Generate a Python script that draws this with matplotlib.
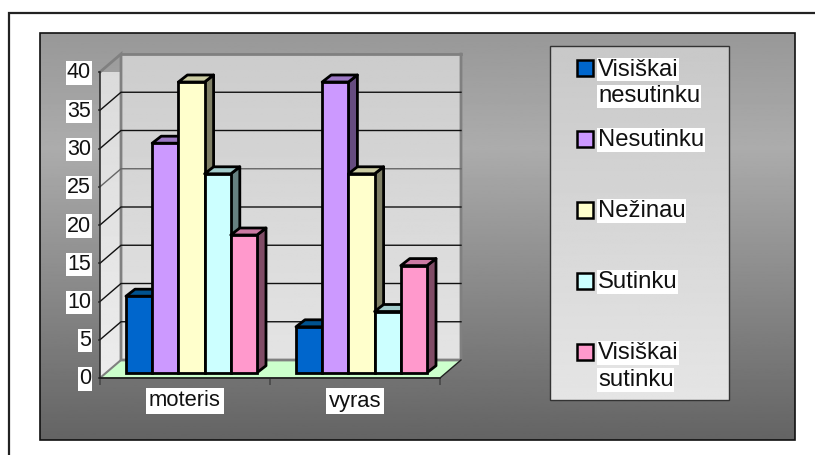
import numpy as np
import matplotlib
matplotlib.use("Agg")
import matplotlib.pyplot as plt
from matplotlib.patches import Polygon, Rectangle
from matplotlib.transforms import Affine2D

plt.rcParams['font.family'] = ['Liberation Sans', 'DejaVu Sans']

categories = ['moteris', 'vyras']
series_names = ['Visiškai\nnesutinku', 'Nesutinku', 'Nežinau', 'Sutinku', 'Visiškai\nsutinku']
series_values = [[10, 6], [30, 38], [38, 26], [26, 8], [18, 14]]
colors = ['#0066cc', '#cc99ff', '#ffffcc', '#ccffff', '#ff99cc']
side_colors = ['#003d7a', '#664c80', '#808066', '#668080', '#804c66']
top_colors = ['#00528f', '#9c78c4', '#cccca3', '#a3cccc', '#cc7aa3']
yticks = [0, 5, 10, 15, 20, 25, 30, 35, 40]

W, H = 815, 455
fig = plt.figure(figsize=(W / 100, H / 100), dpi=100, facecolor='white')
bg = fig.add_axes([0, 0, 1, 1], zorder=0)
bg.set_xlim(0, W); bg.set_ylim(H, 0); bg.axis('off')

def vgrad(a, x0, y0, x1, y1, stops, z=1):
    img = np.interp(np.linspace(0, 1, 256), [s[0] for s in stops], [s[1] for s in stops]).reshape(-1, 1)
    return a.imshow(img, extent=(x0, x1, y1, y0), cmap='gray', vmin=0, vmax=255, aspect='auto', zorder=z)

bg.plot([8.5, 8.5, W], [H, 12.5, 12.5], color='#222222', lw=1.6, zorder=0.5, solid_joinstyle='miter')
vgrad(bg, 40, 33, 795, 440, [(0, 152), (0.28, 172), (1, 100)])
bg.add_patch(Rectangle((40, 33), 755, 407, fc='none', ec='#111111', lw=1.2, zorder=2))
vgrad(bg, 550, 46, 729, 400, [(0, 200), (1, 229)], z=2)
bg.add_patch(Rectangle((550, 46), 179, 354, fc='none', ec='#333333', lw=1, zorder=3))
bg.set_xlim(0, W); bg.set_ylim(H, 0)

# plot area: front axis plane
px0, px1, py0, py1 = 100, 440, 378, 72
ax = fig.add_axes([px0 / W, 1 - py0 / H, (px1 - px0) / W, (py0 - py1) / H], zorder=2)
ax.patch.set_alpha(0)
for s in ('top', 'right'):
    ax.spines[s].set_visible(False)
for s in ('left', 'bottom'):
    ax.spines[s].set_linewidth(1.1); ax.spines[s].set_color('#222222')
ax.set_xticks([-0.5, 0.5, 1.5]); ax.set_xticklabels([])
ax.set_yticks(yticks)
ax.set_yticklabels([str(t) for t in yticks], fontsize=15.5, color='#111111',
                   bbox=dict(fc='white', ec='none', pad=0.8))
ax.tick_params(axis='y', length=1.5, pad=5, width=1.1, color='#333333')
ax.tick_params(axis='x', length=5, width=1.1, color='#444444')

ux = 170.0   # px per category unit
uy = 306 / 40
dxw, dyw = 21 / ux, 18 / uy   # wall depth in data units
wall_x = [-0.5 + dxw, 1.5 + dxw]
vgrad(ax, wall_x[0], 40 + dyw, wall_x[1], dyw, [(0, 204), (1, 228)]).set_clip_on(False)
lw_img = vgrad(ax, -0.5, 40 + dyw, wall_x[0], 0, [(0, 218), (1, 236)])
lw_poly = Polygon([(-0.5, 0), (-0.5, 40), (wall_x[0], 40 + dyw), (wall_x[0], dyw)], closed=True,
                  transform=ax.transData)
lw_img.set_clip_path(lw_poly)
ax.set_xlim(-0.5, 1.5); ax.set_ylim(0, 40)
ax.add_patch(Polygon([(-0.5, 0), (wall_x[0], dyw), (wall_x[1], dyw), (1.5, 0)], closed=True,
                     fc='#ccffcc', ec='none', zorder=1, clip_on=False))
ax.plot([-0.5, wall_x[0], wall_x[0], wall_x[1], wall_x[1]], [40, 40 + dyw, dyw, dyw, 40 + dyw],
        color='#808080', lw=2.0, zorder=1.5, clip_on=False, solid_joinstyle='miter')
ax.plot([wall_x[0], wall_x[1]], [40 + dyw, 40 + dyw], color='#808080', lw=2.0, zorder=1.5, clip_on=False)
ax.plot([-0.5, wall_x[0]], [0, dyw], color='#808080', lw=1.5, zorder=1.5, clip_on=False)
ax.plot([wall_x[1], 1.5, -0.5], [dyw, 0, 0], color='#222222', lw=1.0, zorder=1.6, clip_on=False)
for t in yticks[1:-1]:
    col = '#666666' if t == 25 else '#111111'
    ax.plot([-0.5, wall_x[0], wall_x[1]], [t, t + dyw, t + dyw], color=col, lw=1.0, zorder=1.6, clip_on=False)

# bars
bw = 26.2 / ux
n = len(series_values)
dx, dy = 9 / ux, 7 / uy
off_x, off_y = 6.5 / ux, 5.3 / uy
for c in range(len(categories)):
    for i, vals in enumerate(series_values):
        v = vals[c]
        left = c + off_x + (i - n / 2) * bw
        z = 3 + i * 0.01
        x0, x1 = left, left + bw
        b0, b1 = off_y, off_y + v
        ax.add_patch(Polygon([(x1, b0), (x1 + dx, b0 + dy), (x1 + dx, b1 + dy), (x1, b1)], closed=True,
                             fc=side_colors[i], ec='black', lw=2, zorder=z, joinstyle='round', clip_on=False))
        ax.add_patch(Polygon([(x0, b1), (x0 + dx, b1 + dy), (x1 + dx, b1 + dy), (x1, b1)], closed=True,
                             fc=top_colors[i], ec='black', lw=2, zorder=z, joinstyle='round', clip_on=False))
        ax.bar(left, v, width=bw, bottom=off_y, align='edge', color=colors[i], edgecolor='black',
               linewidth=2, zorder=z + 0.001, clip_on=False)

# nudge y tick labels up to the reference's baseline
for lab in ax.get_yticklabels():
    lab.set_transform(lab.get_transform() + Affine2D().translate(0, 1.5))

# category labels
for c, name in enumerate(categories):
    ax.annotate(name, xy=(c, 0), xytext=(0, -23), textcoords='offset pixels', ha='center', va='center',
                fontsize=15.8, color='#111111', bbox=dict(fc='white', ec='none', pad=2), annotation_clip=False)

# legend
swatch_y = [68, 138.5, 209.5, 280.5, 351.5]
line_pitch = 27
for y, name, col in zip(swatch_y, series_names, colors):
    bg.add_patch(Rectangle((577, y - 8), 16, 16, fc=col, ec='black', lw=1.8, zorder=4))
    for k, line in enumerate(name.split('\n')):
        bg.text(598, y + 1.5 + k * line_pitch, line, fontsize=17.2, ha='left', va='center', color='#111111', zorder=5,
                bbox=dict(fc='white', ec='none', pad=0.5))

fig.savefig('out.png', dpi=100, facecolor='white')
